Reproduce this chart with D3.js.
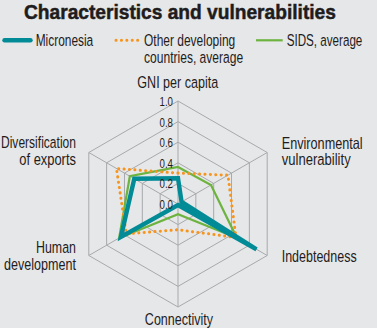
<!DOCTYPE html>
<html><head><meta charset="utf-8">
<script src="https://cdn.jsdelivr.net/npm/d3@7/dist/d3.min.js"></script>
<style>
html,body{margin:0;padding:0;background:#fff;}
svg{display:block;}
text{font-family:"Liberation Sans",Arial,sans-serif;fill:#1f1c1d;}
</style></head><body>
<svg id="c" width="382" height="328"></svg>
<script>
const axes = ["GNI per capita","Environmental vulnerability","Indebtedness","Connectivity","Human development","Diversification of exports"];
const axisLabelLines = [["GNI per capita"],["Environmental","vulnerability"],["Indebtedness"],["Connectivity"],["Human","development"],["Diversification","of exports"]];
const seriesNames = ["Micronesia","Other developing countries, average","SIDS, average"];
const micronesia = [0.25, 0.04, 0.88, 0.01, 0.64, 0.49];
const otherDeveloping = [0.30, 0.56, 0.65, 0.25, 0.58, 0.69];
const sidsAverage = [0.36, 0.37, 0.66, 0.10, 0.66, 0.54];
const ticks = [0, 0.2, 0.4, 0.6, 0.8, 1.0];

const svg = d3.select("#c");
svg.append("rect").attr("width",377).attr("height",328).attr("fill","#e6e7e8");

// condensed text helper: render at natural size, then squeeze horizontally to the target width
function txt(parent, x, y, s, size, w, anchor, weight){
  const t = parent.append("text").attr("x",0).attr("y",0).attr("font-size",size)
    .attr("font-weight",weight||"normal").attr("text-anchor","start").text(s);
  const nat = t.node().getComputedTextLength();
  const sx = w / nat;
  let left = x;
  if(anchor==="end") left = x - w;
  else if(anchor==="middle") left = x - w/2;
  t.attr("transform",`translate(${left},${y}) scale(${sx},1)`);
  return t;
}

const cx = 178, cy = 204, R = 103;
const r = d3.scaleLinear().domain([0,1]).range([0,R]);
const ang = d3.scalePoint().domain(d3.range(axes.length+1)).range([0, 2*Math.PI]);
const pt = (i,v) => [cx + r(v)*Math.sin(ang(i)), cy - r(v)*Math.cos(ang(i))];

// grid rings
const g = svg.append("g");
ticks.filter(t=>t>0).forEach(t=>{
  g.append("path").attr("d", d3.line()(d3.range(6).map(i=>pt(i,t))) + "Z")
   .attr("fill","none").attr("stroke","#a7a9ac").attr("stroke-width",1);
});
d3.range(6).forEach(i=>{
  const [x,y] = pt(i,1);
  g.append("line").attr("x1",cx).attr("y1",cy).attr("x2",x).attr("y2",y)
   .attr("stroke","#a7a9ac").attr("stroke-width",1);
});

// series
const lineR = d3.lineRadial().angle((d,i)=>ang(i)).radius(d=>r(d)).curve(d3.curveLinearClosed);
const sg = svg.append("g").attr("transform",`translate(${cx},${cy})`);
sg.append("path").attr("d",lineR(sidsAverage)).attr("fill","none").attr("stroke","#6db33f").attr("stroke-width",2.2).attr("stroke-linejoin","miter");
sg.append("path").attr("d",lineR(otherDeveloping)).attr("fill","none").attr("stroke","#f7941d").attr("stroke-width",3).attr("stroke-dasharray","0.1 5.3").attr("stroke-linecap","round");
sg.append("path").attr("d",lineR(micronesia)).attr("fill","none").attr("stroke","#008b96").attr("stroke-width",4.4).attr("stroke-linejoin","miter").attr("stroke-miterlimit",10);

// tick labels
ticks.forEach(t=>{
  txt(svg, cx-5, cy-r(t)+5, t.toFixed(1), 13.5, 13.5, "end");
});

// axis labels
const lab = [
  {x:177.8,y:87.5,w:[81]},
  {x:281.7,y:148.5,w:[81,69]},
  {x:281.7,y:261.5,w:[75]},
  {x:179,y:325,w:[68.3]},
  {x:76,y:253,w:[40,72]},
  {x:76,y:148,w:[75,56.7]}
];
const anchors = ["middle","start","start","middle","end","end"];
axisLabelLines.forEach((lines,i)=>{
  lines.forEach((l,k)=>{
    const L = lab[i];
    txt(svg, L.x, L.y + k*16.5, l, 16.5, L.w[k], anchors[i]);
  });
});

// title
txt(svg, 24, 18.8, "Characteristics and vulnerabilities", 21, 312, "start", "bold")
  .attr("stroke","#1f1c1d").attr("stroke-width",0.5);

// legend
const lg = svg.append("g");
lg.append("line").attr("x1",4.5).attr("x2",30.5).attr("y1",40.3).attr("y2",40.3).attr("stroke","#008b96").attr("stroke-width",4.4).attr("stroke-linecap","round");
txt(lg, 35.7, 46.3, seriesNames[0], 16.5, 57.6);
lg.append("line").attr("x1",116).attr("x2",140).attr("y1",40.3).attr("y2",40.3).attr("stroke","#f7941d").attr("stroke-width",3).attr("stroke-dasharray","0.1 5.3").attr("stroke-linecap","round");
txt(lg, 144, 46.3, "Other developing", 16.5, 91.3);
txt(lg, 144, 63, "countries, average", 16.5, 99.3);
lg.append("line").attr("x1",256).attr("x2",282.7).attr("y1",40.3).attr("y2",40.3).attr("stroke","#6db33f").attr("stroke-width",2.2);
txt(lg, 286.7, 46.3, seriesNames[2], 16.5, 75.7);
</script>
</body></html>
